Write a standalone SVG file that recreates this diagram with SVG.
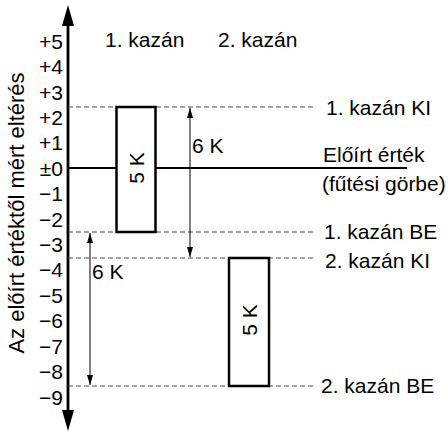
<svg xmlns="http://www.w3.org/2000/svg" width="448" height="432" viewBox="0 0 448 432">
<style>
text{font-family:"Liberation Sans",Arial,Helvetica,sans-serif;font-size:21px;fill:#000}
.tick{text-anchor:end}
.dash{stroke:#444;stroke-width:1;stroke-dasharray:5 3;fill:none}
.box{fill:#fff;stroke:#000;stroke-width:2.5}
.dim{stroke:#000;stroke-width:1;fill:none}
</style>
<defs>
<marker id="ah" viewBox="0 0 10 10" refX="10" refY="5" markerWidth="10" markerHeight="10" markerUnits="userSpaceOnUse" orient="auto-start-reverse">
<path d="M0,2 L10,5 L0,8 Z" fill="#000"/>
</marker>
</defs>
<g id="axis">
<line x1="68" y1="22" x2="68" y2="414" stroke="#000" stroke-width="2.8"/>
<path d="M68,5 L74,26 L62,26 Z" fill="#000"/>
<path d="M68,431 L74,410 L62,410 Z" fill="#000"/>
</g>
<g id="ticks">
<text class="tick" x="63" y="48.5">+5</text>
<text class="tick" x="63" y="74">+4</text>
<text class="tick" x="63" y="99.5">+3</text>
<text class="tick" x="63" y="124.5">+2</text>
<text class="tick" x="63" y="150">+1</text>
<text class="tick" x="63" y="175.5">±0</text>
<text class="tick" x="63" y="201">−1</text>
<text class="tick" x="63" y="226.5">−2</text>
<text class="tick" x="63" y="252">−3</text>
<text class="tick" x="63" y="277">−4</text>
<text class="tick" x="63" y="302.5">−5</text>
<text class="tick" x="63" y="328">−6</text>
<text class="tick" x="63" y="353.5">−7</text>
<text class="tick" x="63" y="379">−8</text>
<text class="tick" x="63" y="404.5">−9</text>
</g>
<text id="ylabel" transform="translate(24,213) rotate(-90)" text-anchor="middle" style="font-size:22px">Az előírt értéktől mért eltérés</text>
<text id="h1" x="105" y="47">1. kazán</text>
<text id="h2" x="218" y="47">2. kazán</text>
<g id="connectors">
<line class="dash" x1="68" y1="107" x2="316" y2="107"/>
<line class="dash" x1="68" y1="232" x2="316" y2="232"/>
<line class="dash" x1="68" y1="258" x2="316" y2="258"/>
<line class="dash" x1="68" y1="386" x2="316" y2="386"/>
<line x1="68" y1="168" x2="407" y2="168" stroke="#000" stroke-width="2"/>
<line class="dim" x1="190" y1="108" x2="190" y2="257" marker-start="url(#ah)" marker-end="url(#ah)"/>
<line class="dim" x1="90" y1="233" x2="90" y2="385" marker-start="url(#ah)" marker-end="url(#ah)"/>
</g>
<g id="box1">
<rect class="box" x="116.5" y="107" width="39" height="125"/>
<text transform="translate(143.5,168) rotate(-90)" text-anchor="middle">5 K</text>
</g>
<g id="box2">
<rect class="box" x="229" y="258" width="40" height="128"/>
<text transform="translate(256.5,320) rotate(-90)" text-anchor="middle">5 K</text>
</g>
<text id="dim1" x="192" y="153">6 K</text>
<text id="dim2" x="92" y="279">6 K</text>
<g id="labels">
<text x="326" y="115">1. kazán KI</text>
<text x="323" y="162">Előírt érték</text>
<text x="322" y="191">(fűtési görbe)</text>
<text x="324" y="239">1. kazán BE</text>
<text x="325" y="268">2. kazán KI</text>
<text x="321" y="393">2. kazán BE</text>
</g>
</svg>
